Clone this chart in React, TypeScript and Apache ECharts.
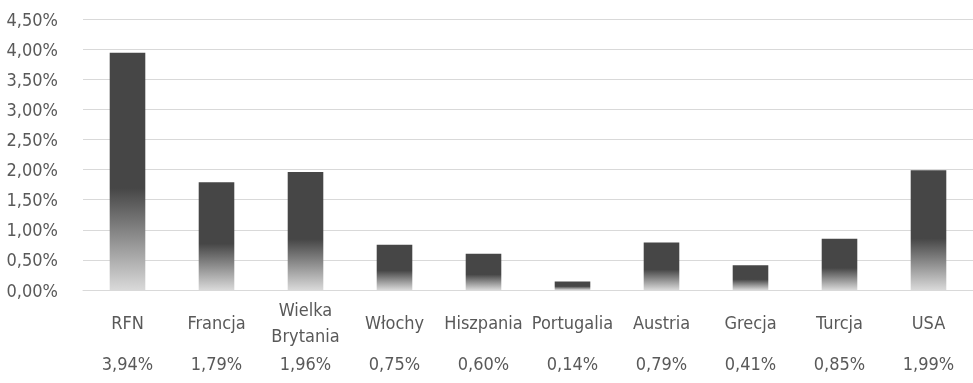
import React, { useEffect, useRef } from "react";
import * as echarts from "echarts";

const categories = ["RFN", "Francja", "Wielka\nBrytania", "Włochy", "Hiszpania", "Portugalia", "Austria", "Grecja", "Turcja", "USA"];
const values = [3.94, 1.79, 1.96, 0.75, 0.6, 0.14, 0.79, 0.41, 0.85, 1.99];
const yMax = 4.5;
const yStep = 0.5;

const FONT = "'Liberation Sans Narrow', 'DejaVu Sans Condensed', sans-serif";
const TEXT = "#595959";
const FS = 18;
const fmt = (v: number) => v.toFixed(2).replace(".", ",") + "%";

export default function App() {
  const ref = useRef<HTMLDivElement>(null);
  useEffect(() => {
    if (!ref.current) return;
    const chart = echarts.init(ref.current, undefined, { renderer: "svg" });
    const grad = new echarts.graphic.LinearGradient(0, 0, 0, 1, [
      { offset: 0, color: "#464646" },
      { offset: 0.57, color: "#464646" },
      { offset: 1, color: "#d9d9d9" },
    ]);
    chart.setOption({
      animation: false,
      textStyle: { fontFamily: FONT },
      grid: { left: 83, top: 19, width: 894, bottom: 93, containLabel: false },
      xAxis: {
        type: "category",
        data: categories,
        axisLine: { lineStyle: { color: "#d9d9d9", width: 1 } },
        axisTick: { show: false },
        axisLabel: {
          interval: 0,
          color: TEXT,
          fontFamily: FONT,
          fontSize: FS,
          lineHeight: 26,
          margin: 32,
          verticalAlign: "middle",
        },
      },
      yAxis: {
        type: "value",
        min: 0,
        max: yMax,
        interval: yStep,
        axisLine: { show: false },
        axisTick: { show: false },
        splitLine: { lineStyle: { color: "#d9d9d9", width: 1 } },
        axisLabel: {
          color: TEXT,
          fontFamily: FONT,
          fontSize: FS,
          margin: 25,
          formatter: (v: number) => fmt(v),
        },
      },
      series: [
        {
          type: "bar",
          data: values,
          barWidth: "40%",
          itemStyle: { color: grad },
          label: {
            show: true,
            position: "bottom",
            distance: 64,
            color: TEXT,
            fontFamily: FONT,
            fontSize: FS,
            formatter: (p: any) => fmt(p.value),
          },
        },
      ],
    });
    return () => chart.dispose();
  }, []);
  return (
    <div
      ref={ref}
      style={{ position: "fixed", left: 0, top: 0, width: 973, height: 383 }}
    />
  );
}
